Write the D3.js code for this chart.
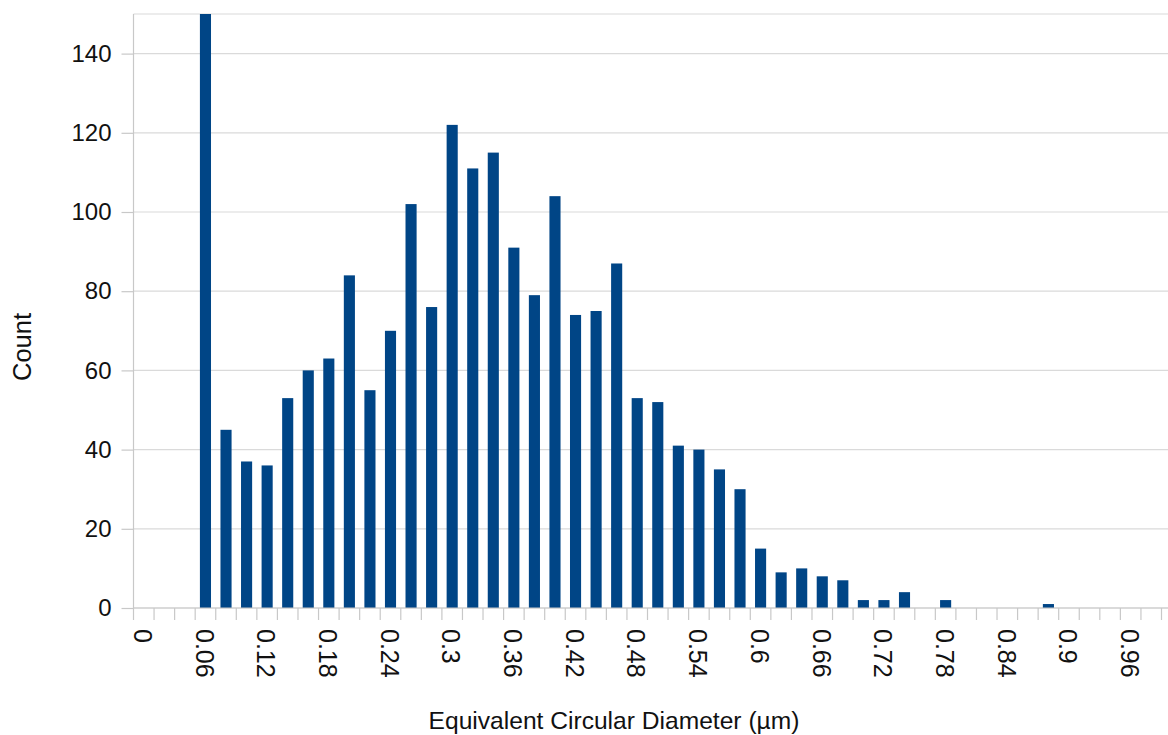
<!DOCTYPE html>
<html><head><meta charset="utf-8">
<script src="https://cdn.jsdelivr.net/npm/d3@7"></script>
<style>body{margin:0;background:#fff}svg{display:block}text{font-family:"Liberation Sans",Arial,sans-serif;fill:#111}</style>
</head><body>
<svg id="c" width="1168" height="735"></svg>
<script>
const categories = ["0","0.02","0.04","0.06","0.08","0.1","0.12","0.14","0.16","0.18","0.2","0.22","0.24","0.26","0.28","0.3","0.32","0.34","0.36","0.38","0.4","0.42","0.44","0.46","0.48","0.5","0.52","0.54","0.56","0.58","0.6","0.62","0.64","0.66","0.68","0.7","0.72","0.74","0.76","0.78","0.8","0.82","0.84","0.86","0.88","0.9","0.92","0.94","0.96","0.98","1"];
const counts = [0,0,0,150,45,37,36,53,60,63,84,55,70,102,76,122,111,115,91,79,104,74,75,87,53,52,41,40,35,30,15,9,10,8,7,2,2,4,0,2,0,0,0,0,1,0,0,0,0,0,0];
const yTicks = [0,20,40,60,80,100,120,140];
const xLabels = ["0","0.06","0.12","0.18","0.24","0.3","0.36","0.42","0.48","0.54","0.6","0.66","0.72","0.78","0.84","0.9","0.96"];
const yMax = 150;

const svg = d3.select("#c");
const W = 1168, H = 735;
const plotLeft = 133.5, step = 20.56, plotTop = 14, plotBottom = 608;
const xb = d3.scaleBand().domain(categories).range([plotLeft, plotLeft + step * categories.length]);
const x = d3.scaleBand().domain(categories).range([plotLeft, plotLeft + step * categories.length]).paddingInner(0.46).paddingOuter(0.23);
const y = d3.scaleLinear().domain([0, yMax]).range([plotBottom, plotTop]);

// grid
svg.append("g").selectAll("line").data(yTicks.concat([yMax])).join("line")
  .attr("x1", plotLeft).attr("x2", W)
  .attr("y1", d => y(d)).attr("y2", d => y(d))
  .attr("stroke", "#dadada").attr("stroke-width", 1.2);

// y axis
const ya = svg.append("g").attr("transform", `translate(${plotLeft},0)`)
  .call(d3.axisLeft(y).tickValues(yTicks).tickSize(12).tickPadding(10));
ya.select(".domain").attr("stroke", "#c8c8c8").attr("stroke-width", 1.2)
  .attr("d", `M0,${y(0)}V${y(yMax)}`);
ya.selectAll(".tick line").attr("stroke", "#c8c8c8").attr("stroke-width", 1.2);
ya.selectAll(".tick text").attr("font-size", 24).attr("font-family", "Liberation Sans, Arial, sans-serif").attr("fill", "#111");

// bars
svg.append("g").selectAll("rect").data(categories).join("rect")
  .attr("x", d => x(d)).attr("width", x.bandwidth())
  .attr("y", (d,i) => y(Math.min(counts[i], yMax)))
  .attr("height", (d,i) => y(0) - y(Math.min(counts[i], yMax)))
  .attr("fill", "#004586");

// x axis
const xg = svg.append("g");
xg.append("line").attr("x1", plotLeft).attr("x2", W).attr("y1", y(0)).attr("y2", y(0))
  .attr("stroke", "#c8c8c8").attr("stroke-width", 1.2);
const bounds = categories.map(c => xb(c));
xg.selectAll("line.t").data(bounds).join("line").attr("class","t")
  .attr("x1", d => d).attr("x2", d => d).attr("y1", y(0)).attr("y2", y(0) + 12)
  .attr("stroke", "#c8c8c8").attr("stroke-width", 1.2);
xg.selectAll("text").data(xLabels).join("text")
  .attr("transform", d => `translate(${xb(d) + xb.bandwidth()/2 - 1},${y(0) + 21}) rotate(90)`)
  .attr("dy", "0.35em").attr("text-anchor", "start")
  .attr("font-size", 25).text(d => d);

// titles
svg.append("text").attr("x", 614).attr("y", 729).attr("text-anchor", "middle")
  .attr("font-size", 24.6).text("Equivalent Circular Diameter (µm)");
svg.append("text").attr("transform", "translate(31,347) rotate(-90)").attr("text-anchor", "middle")
  .attr("font-size", 25.5).text("Count");
</script>
</body></html>
